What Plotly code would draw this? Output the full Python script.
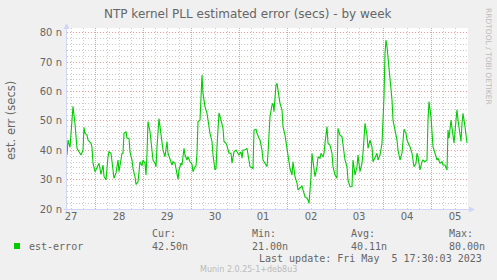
import pandas as pd
import plotly.graph_objects as go

# ---------------- data ----------------
# hours since 2023-04-27 00:00
hours = [
    10.0, 10.5, 11.5, 13.0, 14.0, 15.0, 16.0, 17.0, 18.0, 18.5,
    19.0, 20.0, 20.5, 22.0, 22.5, 23.0, 24.0, 25.0, 26.0, 27.0,
    28.0, 28.5, 29.5, 30.5, 31.0, 32.0, 33.0, 33.5, 34.5, 35.5,
    36.0, 37.0, 37.5, 38.0, 38.5, 39.5, 40.0, 41.0, 41.5, 42.5,
    43.0, 44.0, 44.5, 45.5, 46.0, 46.5, 47.5, 48.0, 49.0, 49.5,
    50.0, 50.5, 51.5, 52.5, 53.0, 54.0, 54.5, 55.0, 56.0, 56.5,
    57.5, 58.0, 59.0, 60.0, 60.5, 61.5, 62.5, 63.0, 64.0, 65.0,
    65.5, 66.0, 67.0, 67.5, 68.5, 69.0, 70.0, 70.5, 71.5, 72.5,
    73.0, 74.0, 74.5, 75.0, 75.5, 76.5, 77.5, 78.0, 79.0, 80.0,
    80.5, 81.5, 82.5, 83.0, 84.0, 84.5, 85.0, 86.0, 87.0, 88.0,
    88.5, 89.5, 90.0, 91.0, 92.0, 92.5, 93.5, 94.5, 95.0, 96.0,
    97.0, 97.5, 98.0, 99.0, 100.0, 100.5,
    101.5, 103.0, 103.5, 104.5, 105.0, 106.0, 106.5, 107.5, 108.0, 109.0,
    110.0, 110.5, 111.5, 112.5, 113.0, 113.5, 114.5, 115.0, 115.5, 116.5,
    117.5, 118.0, 119.0, 120.0, 120.5, 121.5, 122.5, 123.0, 124.0, 125.0,
    125.5, 126.5, 127.5, 128.0, 129.0, 130.0, 130.5, 131.0, 132.0, 132.5,
    133.0, 134.0, 135.0, 135.5, 136.5, 137.0, 138.0, 138.5, 139.0, 140.0,
    140.5, 141.5, 142.5, 143.0, 144.0, 145.0, 145.5, 146.5, 147.5, 148.0,
    149.0, 150.0, 150.5, 151.5, 152.5, 153.0, 154.0, 155.0, 155.5, 156.5,
    157.5, 158.0, 159.0, 160.0, 160.5, 161.5, 162.5, 163.0, 164.0, 165.0,
    165.5, 166.5, 167.5, 168.0, 168.5, 169.0, 169.5, 170.0, 171.0, 171.5,
    172.5, 173.0, 174.0, 175.0, 175.5, 176.5, 177.5, 178.0, 178.5, 179.5,
    180.0, 181.0, 181.5, 182.5, 183.0, 183.5, 184.5, 185.0, 185.5, 186.5,
    187.5, 188.0, 189.0, 190.0, 190.5, 191.0, 192.0, 192.5, 193.0, 194.0,
    195.0, 195.5, 196.5, 197.5, 198.0, 199.0, 200.0, 200.5, 201.0, 202.0,
    202.5, 203.0, 203.5, 204.5, 205.0, 205.5, 206.5, 207.0, 207.5, 208.0,
    209.0, 209.5, 210.0,
]

# est-error, in nanoseconds
values = [
    38.4, 43.5, 41, 55, 49, 40.7, 39.5, 38.4, 40, 47.8,
    45.8, 45.2, 43.5, 42.4, 41, 35.6, 32.7, 34.4, 35.6, 31.8,
    35, 31.2, 29.9, 37.8, 39.5, 39, 34.4, 30.5, 32.2, 36.7,
    32.7, 36.7, 39, 39, 45.8, 46.4, 44.1, 44.1, 39.5, 36.7,
    33.8, 31, 28.4, 29.3, 32.2, 36.1, 34.7, 36.7, 35.6, 31.6,
    39, 49.8, 46.4, 41.2, 36.7, 35.6, 34.4, 41.2, 50.8, 48.1,
    43, 40.1, 37.8, 43, 39, 36.7, 35, 36.1, 35.6, 32,
    30.1, 33.3, 35.6, 35, 40.7, 38.4, 36.7, 37.8, 36.1, 35.3,
    32.7, 34.4, 34.7, 39, 49.8, 50.3, 65.7, 59.4, 54.9, 52.6,
    50.3, 45.8, 43, 38.4, 33.3, 33.8, 41.2, 52.8, 50.3, 47.5,
    43, 42.4, 41.5, 39, 39, 35.6, 39.5, 40.1, 39.5, 38.4,
    39.5, 37.3, 40.1, 40.1, 40.7, 39,
    34.4, 33.8, 46.9, 47.2, 45.8, 44.1, 43.5, 40.1, 36.7, 35.6,
    34.4, 39, 51.5, 55.5, 56, 53.2, 62.3, 62.8, 60.6, 56,
    53.8, 48.1, 45.2, 40.1, 37.3, 33.8, 31.6, 36.1, 31, 28.8,
    26.5, 27.1, 27.8, 26.5, 24.2, 23.6, 23.1, 21.9, 31, 39,
    35.6, 31, 34.4, 37.8, 37.3, 39, 37.8, 39, 42.4, 48.1,
    42.4, 41.8, 39, 34.4, 31.6, 30.5, 47.5, 45.2, 44.6, 41.2,
    36.7, 34.4, 29.9, 27.6, 27.6, 36.7, 31.6, 34.4, 38.4, 32.7,
    35.6, 39, 49.2, 45.2, 40.7, 43.5, 41.2, 36.1, 37.8, 39,
    36.7, 38.4, 42.4, 50.3, 58.3, 73.1, 77.6, 75.3, 68.5, 64,
    57.2, 50.3, 46.9, 43.5, 40.1, 36.7, 39, 43, 47.2, 45.8,
    43.5, 41.8, 41.2, 39, 36.7, 34.4, 35.6, 39, 37.8, 33.3,
    36.1, 36.7, 36.1, 36.7, 50.3, 56.6, 51.5, 44.6, 41.2, 39,
    36.7, 37.3, 35.6, 36.1, 35, 35, 33.3, 46.9, 44.1, 50.3,
    46.9, 45.2, 42.4, 50.3, 53.8, 50.3, 44.6, 43, 49.2, 52.6,
    48.1, 44.6, 42.5,
]

series_name = "est-error"
title_text = "NTP kernel PLL estimated error (secs) - by week"
y_title = "est. err (secs)"
stat_labels = ["Cur:", "Min:", "Avg:", "Max:"]
stat_values = ["42.50n", "21.00n", "40.11n", "80.00n"]
last_update = "Last update: Fri May\u00a0 5 17:30:03 2023"
munin_version = "Munin 2.0.25-1+deb8u3"
rrd_credit = "RRDTOOL / TOBI OETIKER"
start_day = "2023-04-27 00:00"
x_range_hours = [10.0, 210.5]
y_range = [20, 81.7]

# ---------------- layout helpers ----------------
W, H = 497, 280
L, R, T, B = 67, 468, 28, 209  # plot area in pixels


def px(x):
    return (x - L) / (R - L)


def py(y):
    return (B - y) / (B - T)


FONT = "DejaVu Sans"
MONO = "DejaVu Sans Mono"
TXT = "#666666"
AXIS = "#CFD6F8"
MAJ = "rgba(225,90,90,0.6)"
MIN = "rgba(150,150,150,0.5)"
DASH = "1px,2px"
DASHX = "1px,1px"

start = pd.Timestamp(start_day)
times = start + pd.to_timedelta(hours, unit="h")
xr = [start + pd.Timedelta(hours=h) for h in x_range_hours]

# 6-hourly minor grid positions, skipping midnights (those get the major grid)
six_h = pd.date_range(start, xr[1], freq="6h")
minor_x = [t for t in six_h if t.hour != 0]
# 2n minor grid, skipping multiples of 10
minor_y = [v for v in range(20, 82, 2) if v % 10 != 0]

fig = go.Figure()
fig.add_trace(go.Scatter(
    x=times, y=values, mode="lines", name=series_name,
    line=dict(color="#00CC00", width=1.1),
    showlegend=False, hoverinfo="skip",
))

fig.update_layout(
    width=W, height=H,
    margin=dict(l=L, r=W - R, t=T, b=H - B, pad=0),
    paper_bgcolor="#F0F0F0",
    plot_bgcolor="#FFFFFF",
    showlegend=False,
    xaxis=dict(
        type="date",
        range=xr,
        tick0=start_day,
        dtick=86400000,
        tickformat="%d",
        ticklabelmode="period",
        showgrid=True,
        gridcolor=MAJ, griddash=DASHX, gridwidth=1,
        minor=dict(tickmode="array", tickvals=minor_x, showgrid=True,
                   gridcolor=MIN, griddash=DASH, gridwidth=1),
        showline=False, zeroline=False, ticks="",
        tickfont=dict(family=FONT, size=10, color=TXT),
    ),
    yaxis=dict(
        range=y_range,
        tick0=0, dtick=10,
        ticksuffix=" n",
        showgrid=True,
        gridcolor=MAJ, griddash=DASH, gridwidth=1,
        minor=dict(tickmode="array", tickvals=minor_y, showgrid=True,
                   gridcolor=MIN, griddash=DASH, gridwidth=1),
        showline=False, zeroline=False, ticks="",
        ticklabelstandoff=4,
        tickfont=dict(family=FONT, size=10, color=TXT),
    ),
)

# axis lines with arrows
shapes = [
    dict(type="line", xref="paper", yref="paper",
         x0=px(L - 0.5), x1=px(L - 0.5), y0=py(B + 3), y1=py(T - 2),
         line=dict(color=AXIS, width=1)),
    dict(type="line", xref="paper", yref="paper",
         x0=px(L - 3), x1=px(R + 4), y0=py(B + 0.5), y1=py(B + 0.5),
         line=dict(color=AXIS, width=1)),
    dict(type="path", xref="paper", yref="paper",
         path=f"M {px(L - 3.5)} {py(T + 1)} L {px(L + 2.5)} {py(T + 1)} L {px(L - 0.5)} {py(T - 5)} Z",
         fillcolor=AXIS, line=dict(color=AXIS, width=0)),
    dict(type="path", xref="paper", yref="paper",
         path=f"M {px(R + 1)} {py(B - 2.5)} L {px(R + 1)} {py(B + 3.5)} L {px(R + 7)} {py(B + 0.5)} Z",
         fillcolor=AXIS, line=dict(color=AXIS, width=0)),
    # legend swatch
    dict(type="rect", xref="paper", yref="paper",
         x0=px(14), x1=px(20), y0=py(249), y1=py(243),
         fillcolor="#00CC00", line=dict(width=0)),
]
fig.update_layout(shapes=shapes)

ann = []


def text(x, y, s, size=10, family=FONT, color=TXT, xanchor="left", angle=0):
    ann.append(dict(x=px(x), y=py(y), xref="paper", yref="paper", text=s,
                    showarrow=False, xanchor=xanchor, yanchor="middle",
                    textangle=angle,
                    font=dict(family=family, size=size, color=color)))


text(248, 14, title_text, size=12, xanchor="center")
text(11, 121, y_title, size=11.5, xanchor="center", angle=-90)
text(27, 246, series_name, family=MONO)
for xx, lab, val in zip([150, 250, 349, 447], stat_labels, stat_values):
    text(xx, 233, lab, family=MONO)
    text(xx, 246, val, family=MONO)
text(484, 258, last_update, family=MONO, xanchor="right")
text(248, 269, munin_version, size=8, color="#BBBBBB", xanchor="center")
text(489, 56, rrd_credit, size=7.5, color="#BBBBBB", xanchor="center", angle=90)
fig.update_layout(annotations=ann)

fig.write_html("out.html")
